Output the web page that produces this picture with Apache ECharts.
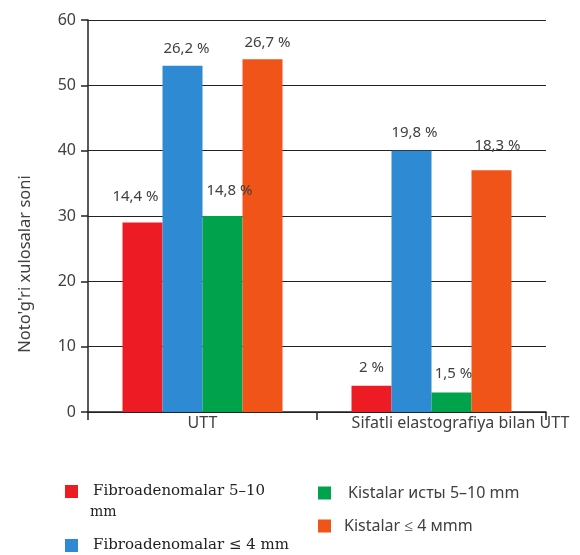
<!DOCTYPE html>
<html>
<head>
<meta charset="utf-8">
<script src="https://cdn.jsdelivr.net/npm/echarts@6/dist/echarts.min.js"></script>
<style>
  html, body { margin: 0; padding: 0; background: #fff; }
  #chart { width: 580px; height: 555px; }
</style>
</head>
<body>
<div id="chart"></div>
<script>
const categories = ['UTT', 'Sifatli elastografiya bilan UTT'];
const seriesNames = ['Fibroadenomalar 5–10 mm', 'Fibroadenomalar ≤ 4 mm', 'Kistalar исты 5–10 mm', 'Kistalar ≤ 4 мmm'];
const fibro510 = [29, 4];
const fibro4 = [53, 40];
const kist510 = [30, 3];
const kist4 = [54, 37];
const fibro510Pct = ['14,4 %', '2 %'];
const fibro4Pct = ['26,2 %', '19,8 %'];
const kist510Pct = ['14,8 %', '1,5 %'];
const kist4Pct = ['26,7 %', '18,3 %'];
const yTicks = [0, 10, 20, 30, 40, 50, 60];

const colors = ['#ED1C24', '#2E8AD3', '#00A24B', '#F05418'];
const labelOffsets = [
  [[-7, -18], [0, -11]],
  [[4, -9], [3, -10]],
  [[7, -18], [2, -11]],
  [[5, -9], [6, -17]]
];
const values = [fibro510, fibro4, kist510, kist4];
const pcts = [fibro510Pct, fibro4Pct, kist510Pct, kist4Pct];

const chart = echarts.init(document.getElementById('chart'));
const series = values.map((vals, s) => ({
  name: seriesNames[s],
  type: 'bar',
  barWidth: 40,
  barGap: '0%',
  itemStyle: { color: colors[s] },
  data: vals.map((v, i) => ({
    value: v,
    label: {
      show: true,
      position: 'top',
      distance: 0,
      offset: labelOffsets[s][i],
      formatter: () => pcts[s][i],
      fontFamily: 'Noto Sans',
      fontSize: 15,
      color: '#404040'
    }
  }))
}));

const legendBase = {
  icon: 'rect',
  itemWidth: 13,
  itemHeight: 13,
  itemGap: 0,
  padding: 0,
  selectedMode: false,
  orient: 'vertical'
};

chart.setOption({
  animation: false,
  backgroundColor: '#fff',
  grid: { left: 88, right: 34, top: 20, bottom: 143 },
  xAxis: {
    type: 'category',
    data: [
      { value: categories[0] },
      { value: categories[1], textStyle: { padding: [0, 0, 0, 58] } }
    ],
    axisLine: { show: true, lineStyle: { color: '#222', width: 1.5 } },
    axisTick: { show: true, alignWithLabel: false, length: 8, lineStyle: { color: '#222', width: 1.5 } },
    axisLabel: { fontFamily: 'Noto Sans', fontSize: 16, color: '#404040', margin: 3, interval: 0 }
  },
  yAxis: {
    type: 'value',
    min: yTicks[0],
    max: yTicks[yTicks.length - 1],
    interval: 10,
    name: "Noto'g'ri xulosalar soni",
    nameLocation: 'middle',
    nameGap: 54,
    nameTextStyle: { fontFamily: 'Noto Sans', fontSize: 16.5, color: '#404040', padding: [0, 96, 0, 0] },
    axisLine: { show: true, lineStyle: { color: '#222', width: 1.5 } },
    axisTick: { show: true, length: 7, lineStyle: { color: '#222', width: 1.5 } },
    axisLabel: { fontFamily: 'Noto Sans', fontSize: 16, color: '#404040', margin: 12 },
    splitLine: { show: true, lineStyle: { color: '#222', width: 1.2 } }
  },
  legend: [
    Object.assign({}, legendBase, {
      data: [seriesNames[0]], left: 65, top: 484,
      formatter: () => 'Fibroadenomalar 5–10',
      textStyle: { fontFamily: 'DejaVu Serif', fontSize: 15, color: '#222', padding: [0, 0, 0, 10] }
    }),
    Object.assign({}, legendBase, {
      data: [seriesNames[1]], left: 65, top: 538,
      formatter: () => 'Fibroadenomalar ≤ 4 mm',
      textStyle: { fontFamily: 'DejaVu Serif', fontSize: 15, color: '#222', padding: [0, 0, 0, 10] }
    }),
    Object.assign({}, legendBase, {
      data: [seriesNames[2]], left: 318, top: 485,
      textStyle: { fontFamily: 'Noto Sans', fontSize: 16, color: '#404040', padding: [0, 0, 0, 12] }
    }),
    Object.assign({}, legendBase, {
      data: [seriesNames[3]], left: 318, top: 518,
      textStyle: { fontFamily: 'Noto Sans', fontSize: 16, color: '#404040', padding: [0, 0, 0, 8] }
    })
  ],
  graphic: [
    { type: 'text', left: 90, top: 505, style: { text: 'mm', font: '14px "DejaVu Serif"', fill: '#222' } }
  ],
  series: series
});
</script>
</body>
</html>
